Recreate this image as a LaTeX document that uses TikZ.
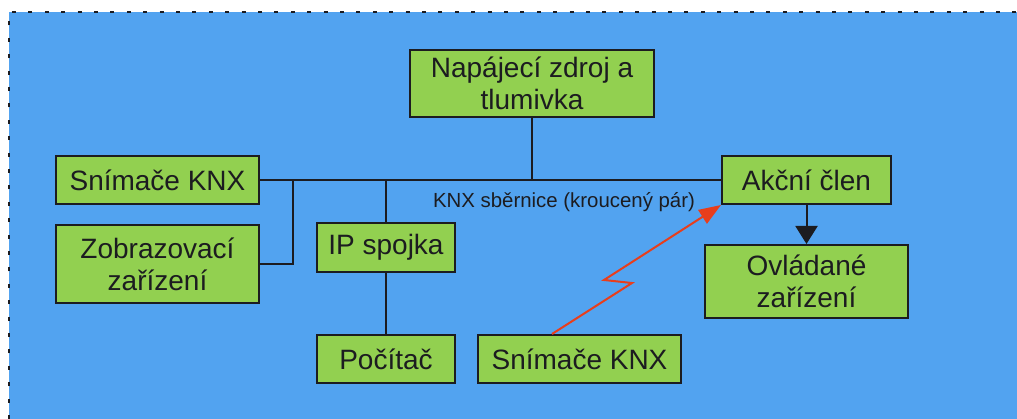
\documentclass[tikz,border=0pt]{standalone}
\usepackage{fontspec}
\setmainfont{Liberation Sans}
\usetikzlibrary{arrows.meta}
\definecolor{bgblue}{RGB}{82,163,240}
\definecolor{boxgreen}{RGB}{146,208,80}
\definecolor{ink}{RGB}{28,28,32}
\definecolor{radio}{RGB}{232,62,28}
\tikzset{
  unit/.style={draw=ink, line width=2pt, fill=boxgreen, inner sep=0pt, align=center,
    text=ink, font=\fontsize{28}{32}\selectfont},
  wire/.style={draw=ink, line width=2pt},
}
\begin{document}
\begin{tikzpicture}[x=1pt, y=-1pt]
  \useasboundingbox (0,0) rectangle (1017,419);
  \fill[white] (0,0) rectangle (1017,419);
  \fill[bgblue] (9,12) rectangle (1017,419);
  \draw[ink, line width=2pt, dash pattern=on 4pt off 12.4pt] (9,419) -- (9,12) -- (1017,12);

  % devices
  \node[unit, minimum width=244pt, minimum height=67pt] (nap) at (532,83.5) {Napájecí zdroj a\\tlumivka};
  \node[unit, minimum width=203pt, minimum height=48pt] (snL) at (157.5,180) {Snímače KNX};
  \node[unit, minimum width=203pt, minimum height=78pt] (zob) at (157.5,264) {Zobrazovací\\zařízení};
  \node[unit, minimum width=138pt, minimum height=49pt] (ip) at (386,247.5) {IP spojka};
  \node[unit, minimum width=138pt, minimum height=48pt] (poc) at (386,359) {Počítač};
  \node[unit, minimum width=203pt, minimum height=48pt] (snB) at (579.5,359) {Snímače KNX};
  \node[unit, minimum width=169pt, minimum height=48pt] (akc) at (806.5,180) {Akční člen};
  \node[unit, minimum width=203pt, minimum height=73pt] (ovl) at (806.5,281.5) {Ovládané\\zařízení};

  % twisted-pair bus
  \coordinate (tap) at (293,180);
  \draw[wire] (snL.east) -- (akc.west);
  \draw[wire] (zob.east) -| (tap);
  \draw[wire] (ip.north) -- (ip.north |- snL.east);
  \draw[wire] (nap.south) -- (nap.south |- snL.east);
  \draw[wire] (ip.south) -- (poc.north);
  \node[text=ink, font=\fontsize{20.4}{24}\selectfont] (bus) at (564,202) {KNX sběrnice (kroucený pár)};

  % actuator output
  \draw[wire, -{Triangle[width=22pt,length=18pt]}] (akc.south) -- (ovl.north);

  % radio link
  \draw[radio, line width=2pt, -{Triangle[width=16pt,length=22pt]}]
    ([xshift=-27.5pt]snB.north) -- ++(80,-51) -- ++(-28,-3) -- (akc.south west);
\end{tikzpicture}
\end{document}
